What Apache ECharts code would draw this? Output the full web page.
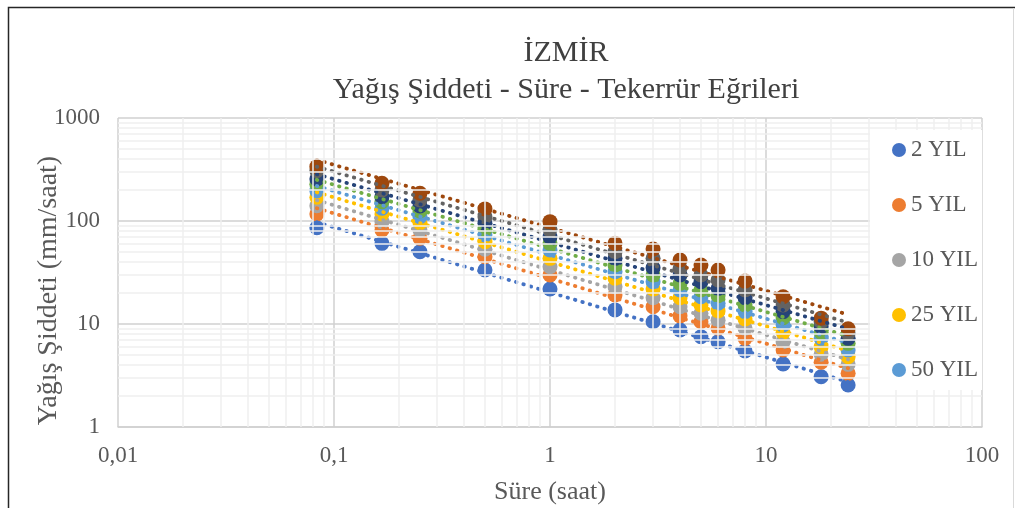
<!DOCTYPE html>
<html>
<head>
<meta charset="utf-8">
<script src="https://cdn.jsdelivr.net/npm/echarts@6/dist/echarts.min.js"></script>
<style>html,body{margin:0;padding:0;background:#fff;}#c{width:1015px;height:508px;}</style>
</head>
<body>
<div id="c"></div>
<script>
var durations = [0.0833, 0.1667, 0.25, 0.5, 1, 2, 3, 4, 5, 6, 8, 12, 18, 24];
var seriesNames = ['2 YIL', '5 YIL', '10 YIL', '25 YIL', '50 YIL', '100 YIL', '200 YIL', '500 YIL', '1000 YIL'];
var legendNames = ['2 YIL', '5 YIL', '10 YIL', '25 YIL', '50 YIL'];
var colors = ['#4472C4', '#ED7D31', '#A5A5A5', '#FFC000', '#5B9BD5', '#70AD47', '#264478', '#636363', '#9E480E'];

var y2    = [86.1, 60.7, 50.3, 33.4, 21.9, 13.7, 10.5, 8.74, 7.53, 6.73, 5.47, 4.09, 3.08, 2.56];
var y5    = [117, 81.9, 67.9, 45.0, 29.9, 19.1, 14.7, 12.0, 10.5, 9.08, 7.26, 5.59, 4.25, 3.32];
var y10   = [140.6, 98.5, 81.8, 53.1, 36.0, 23.0, 18.0, 14.7, 12.7, 10.9, 9.08, 6.73, 5.08, 4.06];
var y25   = [170, 117, 96.2, 63.0, 43.4, 27.8, 21.9, 18.0, 15.3, 13.4, 11.2, 8.3, 6.02, 4.82];
var y50   = [197, 133, 110, 73.1, 52.3, 32.2, 25.7, 21.4, 18.4, 15.9, 13.2, 9.78, 7.26, 5.59];
var y100  = [228, 154, 125, 83.0, 60.7, 37.4, 29.9, 24.8, 21.4, 18.8, 15.3, 11.5, 8.3, 6.49];
var y200  = [256, 172, 140, 94.9, 70.4, 43.4, 35.2, 29.9, 25.7, 22.2, 18.0, 13.2, 9.42, 7.26];
var y500  = [308, 200, 160, 110, 83.0, 50.3, 43.4, 34.7, 29.9, 26.7, 21.4, 15.3, 10.5, 8.13];
var y1000 = [337, 232, 186, 131, 98.5, 60.7, 53.5, 41.8, 37.4, 33.4, 26.1, 18.4, 11.4, 9.0];
var allValues = [y2, y5, y10, y25, y50, y100, y200, y500, y1000];

var xTickLabels = ['0,01', '0,1', '1', '10', '100'];
var yTickLabels = ['1', '10', '100', '1000'];

function powerFit(xs, ys) {
  var n = xs.length, sx = 0, sy = 0, sxx = 0, sxy = 0;
  for (var i = 0; i < n; i++) {
    var lx = Math.log(xs[i]), ly = Math.log(ys[i]);
    sx += lx; sy += ly; sxx += lx * lx; sxy += lx * ly;
  }
  var b = (n * sxy - sx * sy) / (n * sxx - sx * sx);
  var a = Math.exp((sy - b * sx) / n);
  return function (x) { return a * Math.pow(x, b); };
}

var minorX = [], minorY = [];
[0.01, 0.1, 1, 10].forEach(function (d) { for (var k = 2; k <= 9; k++) minorX.push({ xAxis: +(k * d).toPrecision(3) }); });
[1, 10, 100].forEach(function (d) { for (var k = 2; k <= 9; k++) minorY.push({ yAxis: k * d }); });

var series = [{
  name: 'minor-grid', type: 'line', data: [], z: 0, silent: true,
  markLine: {
    silent: true, symbol: 'none', label: { show: false }, animation: false,
    lineStyle: { color: '#efefef', width: 1.5, type: 'solid' },
    data: minorX.concat(minorY)
  }
}];

allValues.forEach(function (vals, i) {
  series.push({
    name: seriesNames[i], type: 'scatter', symbol: 'circle', symbolSize: 15, z: 3,
    itemStyle: { color: colors[i], opacity: 1 },
    data: durations.map(function (d, j) { return [d, vals[j]]; })
  });
});
allValues.forEach(function (vals, i) {
  var f = powerFit(durations, vals);
  var x0 = durations[0], x1 = durations[durations.length - 1];
  series.push({
    name: 'trend-' + i, type: 'line', z: 4, silent: true, symbol: 'none',
    lineStyle: { color: colors[i], width: 3.8, type: [0.5, 7.2], cap: 'round' },
    data: [[x0, f(x0)], [x1, f(x1)]]
  });
});

var chart = echarts.init(document.getElementById('c'), null, { renderer: 'canvas' });
chart.setOption({
  animation: false,
  backgroundColor: '#fff',
  color: colors,
  textStyle: { fontFamily: 'Liberation Serif' },
  graphic: [{
    type: 'rect', shape: { x: 8.5, y: 7.5, width: 1020, height: 520 },
    style: { fill: 'none', stroke: '#262626', lineWidth: 1.5 }, silent: true, z: 10
  }, {
    type: 'line', shape: { x1: 1013.5, y1: 8, x2: 1013.5, y2: 508 },
    style: { stroke: '#d9d9d9', lineWidth: 1 }, silent: true, z: 11
  }],
  title: {
    text: 'İZMİR\nYağış Şiddeti - Süre - Tekerrür Eğrileri',
    left: 561, top: 30, textAlign: 'center',
    textStyle: { fontFamily: 'Liberation Serif', fontSize: 30, fontWeight: 'normal', color: '#404040', lineHeight: 37, align: 'center' }
  },
  legend: {
    data: legendNames.map(function (n) { return { name: n, icon: 'circle' }; }),
    orient: 'vertical', left: 870, top: 130,
    padding: [8, 4, 8, 22], backgroundColor: '#ffffff', z: 20,
    selectedMode: false,
    itemWidth: 14, itemHeight: 14, itemGap: 31,
    itemStyle: { borderWidth: 0 },
    lineStyle: { width: 0, opacity: 0 },
    textStyle: { fontFamily: 'Liberation Serif', fontSize: 23, color: '#595959', lineHeight: 24 }
  },
  grid: { left: 118, right: 33, top: 118, bottom: 81, containLabel: false, outerBoundsMode: 'none' },
  xAxis: {
    type: 'log', logBase: 10, min: 0.01, max: 100, z: 1,
    name: 'Süre (saat)', nameLocation: 'middle', nameGap: 52, nameMoveOverlap: false,
    nameTextStyle: { fontFamily: 'Liberation Serif', fontSize: 26, color: '#595959' },
    axisLine: { show: true, lineStyle: { color: '#d0d0d0', width: 1.5 } },
    axisTick: { show: false },
    splitLine: { show: true, lineStyle: { color: '#d0d0d0', width: 1.5 } },
    axisLabel: {
      margin: 17, fontFamily: 'Liberation Serif', fontSize: 23, color: '#595959',
      formatter: function (v) {
        var e = Math.round(Math.log10(v));
        return xTickLabels[e + 2] !== undefined ? xTickLabels[e + 2] : '';
      }
    }
  },
  yAxis: {
    type: 'log', logBase: 10, min: 1, max: 1000, z: 1,
    name: 'Yağış Şiddeti (mm/saat)', nameLocation: 'middle', nameGap: 55, nameMoveOverlap: false,
    nameTextStyle: { fontFamily: 'Liberation Serif', fontSize: 28, color: '#595959', padding: [0, 36, 0, 0] },
    axisLine: { show: false },
    axisTick: { show: false },
    splitLine: { show: true, lineStyle: { color: '#d0d0d0', width: 1.5 } },
    axisLabel: {
      margin: 18, fontFamily: 'Liberation Serif', fontSize: 23, color: '#595959',
      formatter: function (v) {
        var e = Math.round(Math.log10(v));
        return yTickLabels[e] !== undefined ? yTickLabels[e] : '';
      }
    }
  },
  series: series
});
</script>
</body>
</html>
